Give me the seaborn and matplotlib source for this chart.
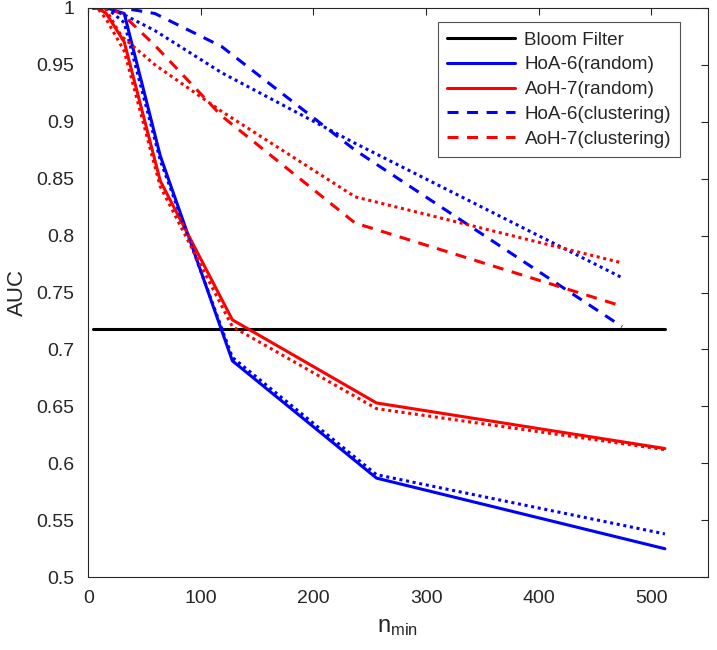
import numpy as np
import pandas as pd
import matplotlib
matplotlib.use("Agg")
import matplotlib.pyplot as plt
import seaborn as sns

# n_min values (random sampling) and the shifted values used for clustering
n_min = [4, 8, 16, 32, 64, 128, 256, 512]
n_min_clust = [3.7, 7.4, 14.8, 29.6, 59.2, 118.5, 237, 474]

bloom_auc = [0.718, 0.718, 0.718, 0.718, 0.718, 0.718, 0.718, 0.718]
hoa6_random = [1.0, 1.0, 1.0, 0.995, 0.870, 0.690, 0.587, 0.525]
aoh7_random = [1.0, 1.0, 0.995, 0.970, 0.848, 0.726, 0.653, 0.613]
hoa6_random_dot = [1.0, 1.0, 1.0, 0.987, 0.866, 0.693, 0.590, 0.538]
aoh7_random_dot = [1.0, 1.0, 0.99, 0.962, 0.843, 0.720, 0.648, 0.612]

hoa6_clust = [1.0, 1.0, 1.0, 1.0, 0.995, 0.966, 0.875, 0.720]
aoh7_clust = [1.0, 1.0, 1.0, 0.995, 0.967, 0.905, 0.811, 0.738]
hoa6_clust_dot = [1.0, 1.0, 1.0, 0.995, 0.980, 0.943, 0.881, 0.763]
aoh7_clust_dot = [1.0, 1.0, 1.0, 0.975, 0.950, 0.909, 0.834, 0.776]

sns.set_style("white")
plt.rcParams["font.family"] = ["Liberation Sans", "DejaVu Sans"]
plt.rcParams["mathtext.fontset"] = "custom"
plt.rcParams["mathtext.rm"] = "Liberation Sans"

fig = plt.figure(figsize=(7.17, 6.5), dpi=100)
ax = fig.add_axes([0.123, 0.112, 0.864, 0.876])

lw = 2.2
dash = (0, (3.6, 2.8))
dot = (0, (1, 1.2))

series = [
    (n_min, bloom_auc, "black", "-", "Bloom Filter"),
    (n_min, hoa6_random, "#0000ff", "-", "HoA-6(random)"),
    (n_min, aoh7_random, "#ff0000", "-", "AoH-7(random)"),
    (n_min_clust, hoa6_clust, "#0000ff", dash, "HoA-6(clustering)"),
    (n_min_clust, aoh7_clust, "#ff0000", dash, "AoH-7(clustering)"),
    (n_min, hoa6_random_dot, "#0000ff", dot, None),
    (n_min, aoh7_random_dot, "#ff0000", dot, None),
    (n_min_clust, hoa6_clust_dot, "#0000ff", dot, None),
    (n_min_clust, aoh7_clust_dot, "#ff0000", dot, None),
]

handles = []
for xs, ys, c, ls, name in series:
    sns.lineplot(x=xs, y=ys, ax=ax, color=c, linestyle=ls, linewidth=lw,
                 legend=False, errorbar=None, sort=False)
    if name is not None:
        handles.append((ax.lines[-1], name))

ax.set_xlim(0, 550)
ax.set_ylim(0.5, 1.0)
ax.set_xticks([0, 100, 200, 300, 400, 500])
ax.set_yticks([0.5, 0.55, 0.6, 0.65, 0.7, 0.75, 0.8, 0.85, 0.9, 0.95, 1.0])
ax.set_yticklabels(["0.5", "0.55", "0.6", "0.65", "0.7", "0.75", "0.8",
                    "0.85", "0.9", "0.95", "1"])
ax.tick_params(direction="in", length=5, width=0.8, top=True, right=True,
               labelsize=14, colors="#262626", labelcolor="#262626", pad=9)
ax.tick_params(axis="y", pad=10)
for sp in ax.spines.values():
    sp.set_color("#262626")
    sp.set_linewidth(0.8)

ax.set_xlabel(r"$\mathregular{n_{min}}$", fontsize=17, color="#262626",
              labelpad=7)
ax.set_ylabel("AUC", fontsize=16, color="#262626", labelpad=6)

leg = ax.legend([h for h, _ in handles], [n for _, n in handles],
                loc="upper right", bbox_to_anchor=(0.956, 0.975),
                borderaxespad=0, fontsize=13.6, frameon=True, fancybox=False,
                handlelength=3.6, borderpad=0.5, labelspacing=0.4,
                handletextpad=0.5)
leg.get_frame().set_edgecolor("#262626")
leg.get_frame().set_linewidth(0.8)

fig.savefig("out.png", dpi=100)
